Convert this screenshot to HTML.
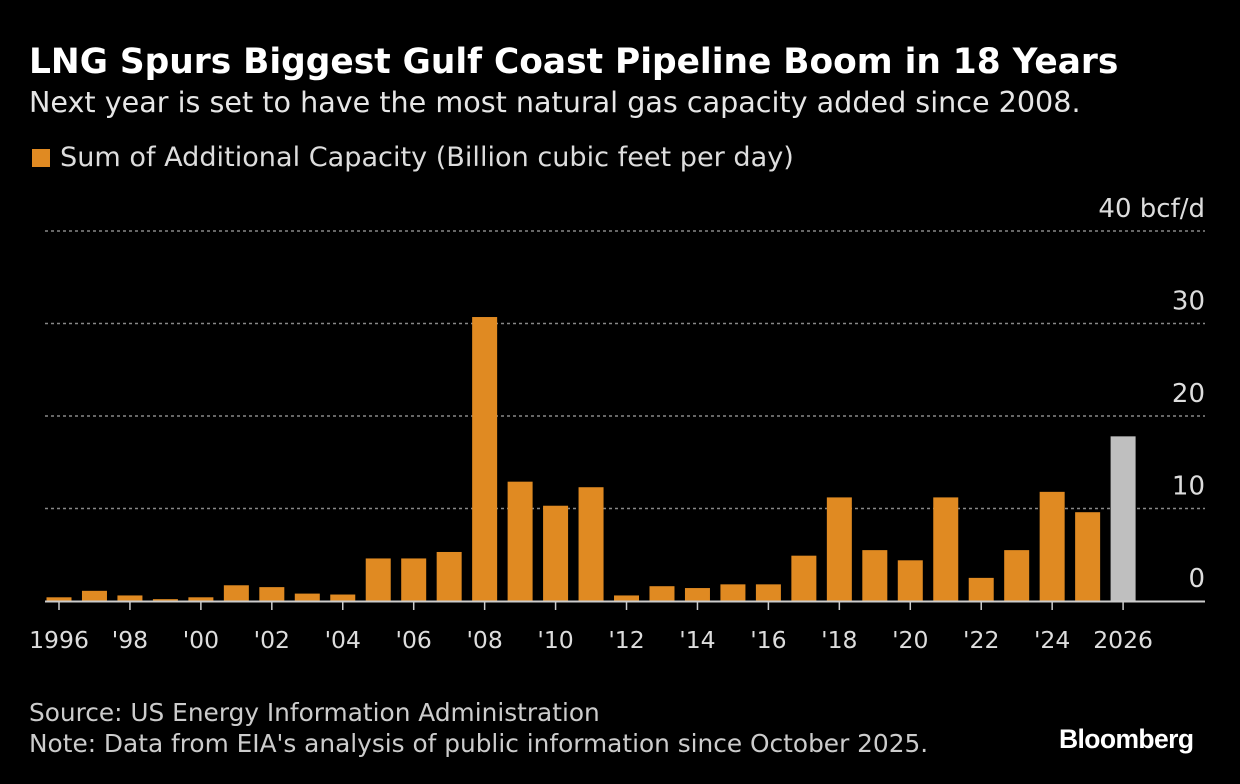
<!DOCTYPE html>
<html><head><meta charset="utf-8"><style>
html,body{margin:0;padding:0;background:#000;}
body{width:1240px;height:784px;overflow:hidden;font-family:"DejaVu Sans","Liberation Sans",sans-serif;color:#fff;position:relative;}
.t{position:absolute;white-space:nowrap;}
</style></head><body>
<div class="t" style="left:29px;top:42px;font-size:34.4px;font-weight:bold;">LNG Spurs Biggest Gulf Coast Pipeline Boom in 18 Years</div>
<div class="t" style="left:29px;top:85px;font-size:28.6px;color:#e6e6e6;">Next year is set to have the most natural gas capacity added since 2008.</div>
<div class="t" style="left:32px;top:142px;font-size:27.1px;color:#ddd;"><span style="display:inline-block;width:18px;height:18px;background:#e08a22;margin-right:10px;vertical-align:-1px"></span>Sum of Additional Capacity (Billion cubic feet per day)</div>
<svg id="chart" width="1240" height="784" style="position:absolute;left:0;top:0;font-family:'DejaVu Sans',sans-serif"></svg>
<div class="t" style="left:29px;top:698px;font-size:24.8px;color:#ccc;">Source: US Energy Information Administration</div>
<div class="t" style="left:29px;top:729px;font-size:24.8px;color:#ccc;">Note: Data from EIA's analysis of public information since October 2025.</div>
<div class="t" style="left:1059px;top:724px;font-family:'Liberation Sans',sans-serif;font-size:26.5px;font-weight:bold;letter-spacing:-0.6px;">Bloomberg</div>
<script>
const years=[1996,1997,1998,1999,2000,2001,2002,2003,2004,2005,2006,2007,2008,2009,2010,2011,2012,2013,2014,2015,2016,2017,2018,2019,2020,2021,2022,2023,2024,2025,2026];
const values=[0.4,1.1,0.6,0.2,0.4,1.7,1.5,0.8,0.7,4.6,4.6,5.3,30.7,12.9,10.3,12.3,0.6,1.6,1.4,1.8,1.8,4.9,11.2,5.5,4.4,11.2,2.5,5.5,11.8,9.6,17.8];
const yTicks=[0,10,20,30,40];
const yTickLabels=["0","10","20","30","40 bcf/d"];
const xLabels=["1996","'98","'00","'02","'04","'06","'08","'10","'12","'14","'16","'18","'20","'22","'24","2026"];
const svg=document.getElementById('chart');const NS='http://www.w3.org/2000/svg';
const y=v=>601-v*9.25;
const x=yr=>59+(yr-1996)*35.47;
function mk(t,a){const e=document.createElementNS(NS,t);for(const k in a)e.setAttribute(k,a[k]);svg.appendChild(e);return e;}
yTicks.forEach((v,i)=>{
 if(v>0){const g=mk('line',{x1:45,x2:1205,y1:y(v),y2:y(v),stroke:'#888','stroke-dasharray':'3,3','stroke-width':1.5});
 
 }
 const t=mk('text',{x:1205,y:y(v)-14,'text-anchor':'end','font-size':26,fill:'#ddd'});t.textContent=yTickLabels[i];
 
 
});
years.forEach((yr,i)=>{
 const r=mk('rect',{x:x(yr)-12.5,y:y(values[i]),width:25,height:values[i]*9.25,fill:yr===2026?'#bfbfbf':'#e08a22'});
 
 
});
const ax=mk('line',{x1:45,x2:1205,y1:601.5,y2:601.5,stroke:'#ccc','stroke-width':2});


xLabels.forEach((l,i)=>{
 const yr=1996+i*2;
 const tk=mk('line',{x1:x(yr),x2:x(yr),y1:602,y2:610,stroke:'#ccc','stroke-width':1.5});
 
 
 const t=mk('text',{x:x(yr),y:648,'text-anchor':'middle','font-size':23.5,fill:'#ddd'});t.textContent=l;
 
 
});
</script>
</body></html>
